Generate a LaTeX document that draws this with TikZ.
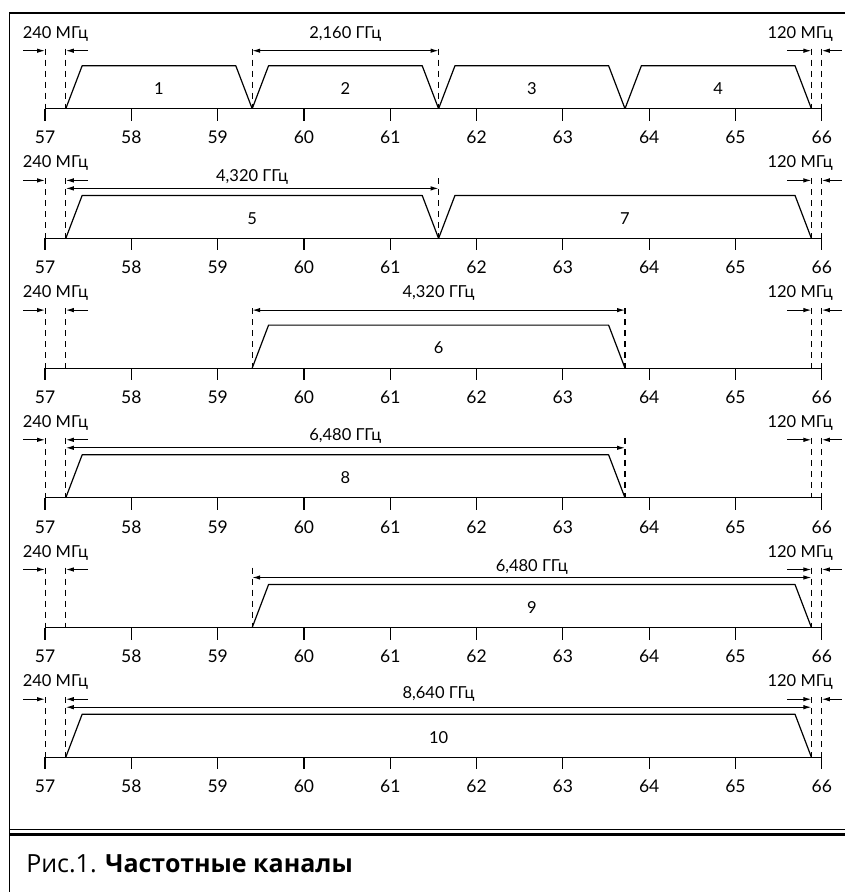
\documentclass[tikz,border=0pt]{standalone}
\usepackage{fontspec}
\setmainfont{Lato}
\newfontfamily\capfont{Open Sans}
\usetikzlibrary{arrows.meta}

\tikzset{
  rule/.style={line width=1.2pt},
  guide/.style={line width=1.1pt, dash pattern=on 6pt off 5pt},
  band/.style={line width=1.2pt, line join=round},
  gap/.style={line width=1.1pt, -{Latex[length=8pt,width=4.5pt]}},
  span/.style={line width=1.1pt, {Latex[length=8pt,width=4.5pt]}-{Latex[length=8pt,width=4.5pt]}},
  freq/.style={font=\fontsize{17.5}{18}\selectfont},
  note/.style={font=\fontsize{16.5}{17}\selectfont},
}

\begin{document}
\begin{tikzpicture}[x=86.3pt, y=-1pt]
  \useasboundingbox (56.4786,0) rectangle (66.2700,892);
  % frame and caption rules
  \draw[line width=1.5pt] (56.589,892) -- (56.589,13) -- (66.3,13);
  \draw[line width=1.2pt] (56.589,829.5) -- (66.3,829.5);
  \draw[line width=3pt] (56.589,834.5) -- (66.3,834.5);
  \node[anchor=west, inner sep=0pt, font=\capfont\fontsize{25}{25}\selectfont] (caption) at (56.78,864) {Рис.1. \textbf{Частотные каналы}};

  % axes and guard bands, one row per panel
  \foreach \p in {0,...,5} {
    \begin{scope}[shift={(0,108.7+129.7*\p)}]
      \draw[rule] (57,0) -- (66,0);
      \foreach \f in {57,...,66} {
        \draw[rule] (\f,0) -- (\f,12);
        \node[freq] (f\p-\f) at (\f,29) {\f};
      }
      \foreach \f in {57,57.24,65.88,66}
        \draw[guide] (\f,-60) -- (\f,0);
      \node[note] (lo\p) at (57.12,-75) {240 МГц};
      \node[note] (hi\p) at (65.75,-75) {120 МГц};
      \draw[gap] (56.745,-58) -- (57,-58);
      \draw[gap] (57.5,-58) -- (57.24,-58);
      \draw[gap] (65.6,-58) -- (65.88,-58);
      \draw[gap] (66.23,-58) -- (66,-58);
    \end{scope}
  }

  % channels
  \foreach \p/\a/\z/\n in {0/57.24/59.40/1, 0/59.40/61.56/2, 0/61.56/63.72/3, 0/63.72/65.88/4,
      1/57.24/61.56/5, 1/61.56/65.88/7, 2/59.40/63.72/6, 3/57.24/63.72/8,
      4/59.40/65.88/9, 5/57.24/65.88/10} {
    \begin{scope}[shift={(0,108.7+129.7*\p)}]
      \draw[band] (\a,0) -- (\a+0.19,-43) -- (\z-0.19,-43) -- (\z,0);
      \node[note] (ch\n) at ({(\a+\z)/2},-20) {\n};
    \end{scope}
  }

  % channel widths
  \foreach \f/\p in {59.40/0, 61.56/0, 61.56/1, 59.40/2, 63.72/2, 63.72/3, 59.40/4}
    \draw[guide] (\f,108.7+129.7*\p-60) -- (\f,108.7+129.7*\p);
  \foreach \p/\a/\z/\h/\t/\w in {0/59.40/61.56/58/75/{2,160}, 1/57.24/61.56/50/61/{4,320},
      2/59.40/63.72/58/75/{4,320}, 3/57.24/63.72/50/62/{6,480},
      4/59.40/65.88/50/61/{6,480}, 5/57.24/65.88/50/63/{8,640}} {
    \begin{scope}[shift={(0,108.7+129.7*\p)}]
      \coordinate (s\p) at (\a,-\h);
      \coordinate (e\p) at (\z,-\h);
      \draw[span] (s\p) -- (e\p);
      \node[note] (w\p) at ({(\a+\z)/2},-\t) {\w\ ГГц};
    \end{scope}
  }
\end{tikzpicture}
\end{document}
